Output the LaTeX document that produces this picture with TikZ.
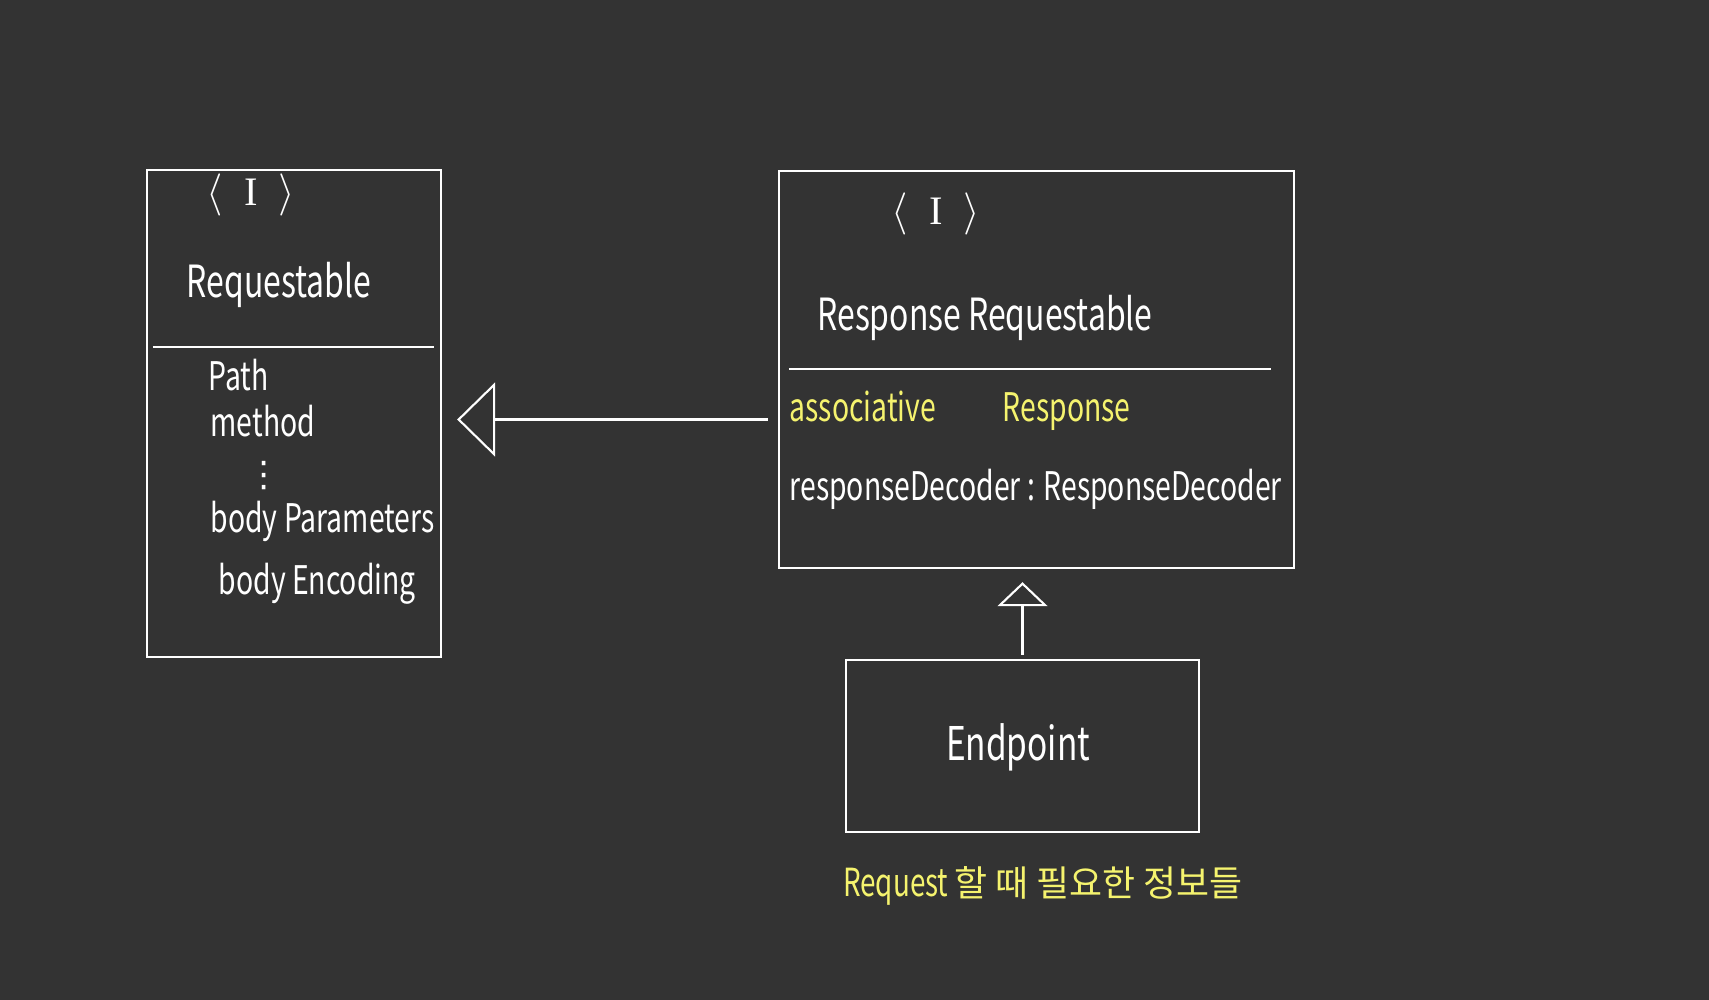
\documentclass[tikz,border=0pt]{standalone}
\usepackage{fontspec}
\setmainfont{Noto Sans CJK KR}[FakeStretch=0.72]
\newfontfamily\krfont{Noto Sans CJK KR}
\newfontfamily\symbfont{DejaVu Sans}
\newfontfamily\serifI{Liberation Serif}
\usepackage{tikz}
\usetikzlibrary{arrows.meta, positioning, calc}
\definecolor{boardgray}{HTML}{333333}
\definecolor{chalkyellow}{HTML}{F5F36E}
\newcommand{\iface}{$\langle$\hspace{6pt}{\serifI I}\hspace{6pt}$\rangle$}

\begin{document}
\begin{tikzpicture}[
    x=0.01cm, y=-0.01cm,
    classbox/.style={rectangle, draw=white, line width=0.6pt, inner sep=0pt},
    stereo/.style={text=white, inner sep=0pt, font=\fontsize{11.5}{13}\selectfont},
    classname/.style={text=white, inner sep=0pt, font=\fontsize{12.6}{15}\selectfont},
    member/.style={text=white, inner sep=0pt, anchor=west, font=\fontsize{11.2}{13}\selectfont},
    hint/.style={text=chalkyellow, inner sep=0pt, font=\fontsize{11}{13}\selectfont},
    divider/.style={draw=white, line width=0.6pt},
    realize/.style={-{Triangle[open, length=3.8mm, width=7.4mm]}, draw=white, line width=0.6pt},
    realizeup/.style={-{Triangle[open, length=2.4mm, width=5mm]}, draw=white, line width=0.6pt},
]
    \fill[boardgray] (0,0) rectangle (1709,1000);

    % Requestable
    \node[classbox, minimum width=2.94cm, minimum height=4.87cm] (req) at (294,413.5) {};
    \node[stereo] (reqi) at (251,195) {\iface};
    \node[classname] (reqname) at (279,285) {Requestable};
    \draw[divider] ($(req.north west)+(7,178)$) -- ($(req.north east)+(-8,178)$);
    \node[member] (path) at (208,375) {Path};
    \node[member] (method) at (210,421) {method};
    \node[text=white, inner sep=0pt, font=\symbfont\fontsize{10}{11}\selectfont] (more) at (264,476) {⋮};
    \node[member] (bodyparams) at (210,521) {body Parameters};
    \node[member] (bodyenc) at (218,584) {body Encoding};

    % ResponseRequestable
    \node[classbox, minimum width=5.15cm, minimum height=3.97cm] (resp) at (1036.5,369.5) {};
    \node[stereo] (respi) at (936,214) {\iface};
    \node[classname] (respname) at (985,318) {Response Requestable};
    \draw[divider] ($(resp.north west)+(11,199)$) -- ($(resp.north east)+(-24,199)$);
    \node[member, text=chalkyellow] (assoc) at (789,411) {associative\hspace{19pt}Response};
    \node[member] (decoder) at (789,489) {responseDecoder : ResponseDecoder};

    % Endpoint
    \node[classbox, minimum width=3.53cm, minimum height=1.72cm] (endpt) at (1022.5,746) {};
    \node[text=white, inner sep=0pt, font=\fontsize{13.2}{16}\selectfont] (endname) at (1018,747) {Endpoint};
    \node[hint] (note) at (1043,886) {Request\,{\krfont\fontsize{10.2}{12}\selectfont 할 때 필요한 정보들}};

    \draw[realize, shorten <=0.1cm, shorten >=0.15cm] ([yshift=-0.06cm]resp.west |- req.east) -- ([yshift=-0.06cm]req.east);
    \draw[realizeup, shorten <=0.04cm, shorten >=0.13cm] (endpt.north) -- (endpt.north |- resp.south);
\end{tikzpicture}
\end{document}
